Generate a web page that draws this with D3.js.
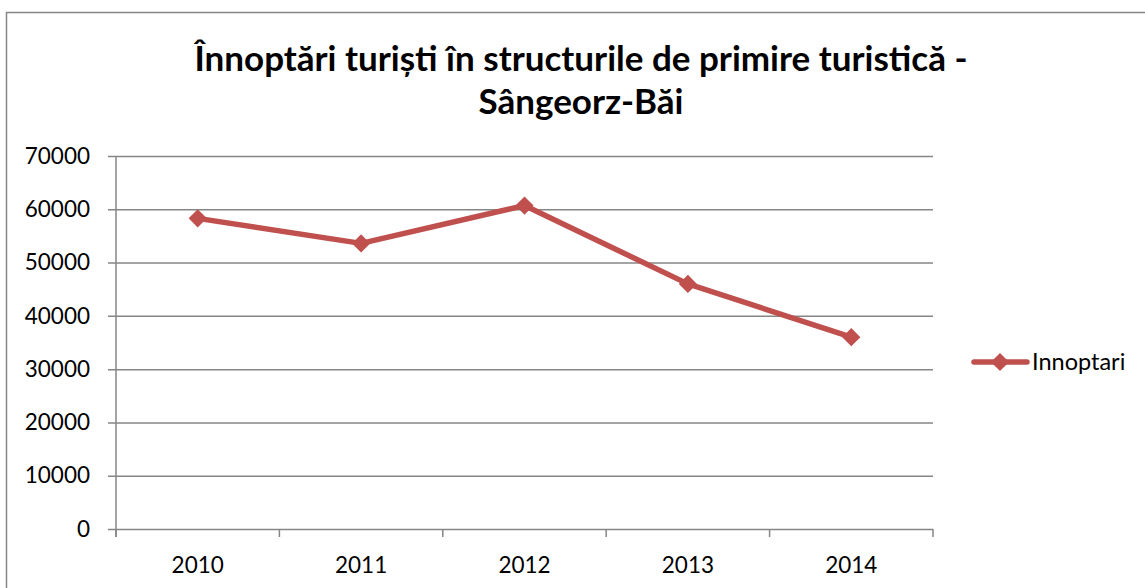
<!DOCTYPE html>
<html>
<head>
<meta charset="utf-8">
<script src="https://cdn.jsdelivr.net/npm/d3@7"></script>
<style>
  body { margin: 0; background: #fff; }
  svg { display: block; }
</style>
</head>
<body>
<div id="chart"><svg width="1145" height="588"></svg></div>
<script>
// data
const years = ["2010", "2011", "2012", "2013", "2014"];
const innoptari = [58300, 53600, 60700, 46000, 36000];
const yTicks = [0, 10000, 20000, 30000, 40000, 50000, 60000, 70000];
const titleLines = ["Înnoptări turiști în structurile de primire turistică -", "Sângeorz-Băi"];
const seriesName = "Innoptari";

const width = 1145, height = 588;
const margin = {top: 156, left: 116, right: 212, bottom: 59};

const svg = d3.select("#chart").select("svg");

const gridColor = "#868686";
const lineColor = "#C0504D";
const font = "Lato, 'Open Sans', sans-serif";

// outer frame
svg.append("rect")
    .attr("x", 6.5).attr("y", 12.5)
    .attr("width", width + 10).attr("height", height + 10)
    .attr("fill", "none")
    .attr("stroke", gridColor)
    .attr("stroke-width", 1.5);

/***** scales *****/
const xScale = d3.scaleBand()
    .domain(years)
    .range([margin.left, width - margin.right]);

const yScale = d3.scaleLinear()
    .domain([0, 70000])
    .range([height - margin.bottom, margin.top]);

const tick = 8;

/***** gridlines + y axis *****/
const yAxis = d3.axisLeft(yScale)
    .tickValues(yTicks)
    .tickSize(-(width - margin.right - margin.left))
    .tickSizeOuter(0)
    .tickPadding(26)
    .tickFormat(d => d);

const yG = svg.append("g")
    .attr("transform", `translate(${margin.left},0)`)
    .call(yAxis);
yG.select(".domain").remove();
yG.selectAll(".tick line")
    .attr("x1", -tick)
    .attr("stroke", gridColor)
    .attr("stroke-width", 1.5);
yG.selectAll("text")
    .style("font-family", font)
    .style("font-size", "22.5px")
    .attr("fill", "#000");

// vertical axis line
svg.append("line")
    .attr("x1", margin.left).attr("x2", margin.left)
    .attr("y1", yScale(70000)).attr("y2", yScale(0) + tick)
    .attr("stroke", gridColor)
    .attr("stroke-width", 1.5);

/***** x axis *****/
const bounds = years.map(d => xScale(d)).concat([xScale.range()[1]]);
svg.append("g").selectAll("line")
    .data(bounds)
    .join("line")
    .attr("x1", d => d).attr("x2", d => d)
    .attr("y1", yScale(0)).attr("y2", yScale(0) + tick)
    .attr("stroke", gridColor)
    .attr("stroke-width", 1.5);

svg.append("g").selectAll("text")
    .data(years)
    .join("text")
    .attr("x", d => xScale(d) + xScale.bandwidth() / 2)
    .attr("y", yScale(0) + 44)
    .attr("text-anchor", "middle")
    .style("font-family", font)
    .style("font-size", "22.5px")
    .text(d => d);

/***** series *****/
const pts = years.map((d, i) => ({year: d, value: innoptari[i]}));

const line = d3.line()
    .x(d => xScale(d.year) + xScale.bandwidth() / 2)
    .y(d => yScale(d.value));

svg.append("path")
    .datum(pts)
    .attr("d", line)
    .attr("fill", "none")
    .attr("stroke", lineColor)
    .attr("stroke-width", 5.5)
    .attr("stroke-linejoin", "round");

const diamond = d3.symbol().type(d3.symbolDiamond2).size(210);

svg.append("g").selectAll("path")
    .data(pts)
    .join("path")
    .attr("d", diamond)
    .attr("transform", d => `translate(${xScale(d.year) + xScale.bandwidth() / 2},${yScale(d.value)})`)
    .attr("fill", lineColor);

/***** legend *****/
const legY = 362;
const legend = svg.append("g");
legend.append("line")
    .attr("x1", 974).attr("x2", 1027)
    .attr("y1", legY).attr("y2", legY)
    .attr("stroke", lineColor)
    .attr("stroke-width", 5.5)
    .attr("stroke-linecap", "round");
legend.append("path")
    .attr("d", diamond)
    .attr("transform", `translate(1000,${legY})`)
    .attr("fill", lineColor);
legend.append("text")
    .attr("x", 1032)
    .attr("y", legY + 8)
    .style("font-family", font)
    .style("font-size", "23.5px")
    .text(seriesName);

/***** title *****/
svg.append("g").selectAll("text")
    .data(titleLines)
    .join("text")
    .attr("x", 581)
    .attr("y", (d, i) => 71 + i * 43)
    .attr("text-anchor", "middle")
    .style("font-family", font)
    .style("font-weight", "bold")
    .style("font-size", "35px")
    .text(d => d);
</script>
</body>
</html>
